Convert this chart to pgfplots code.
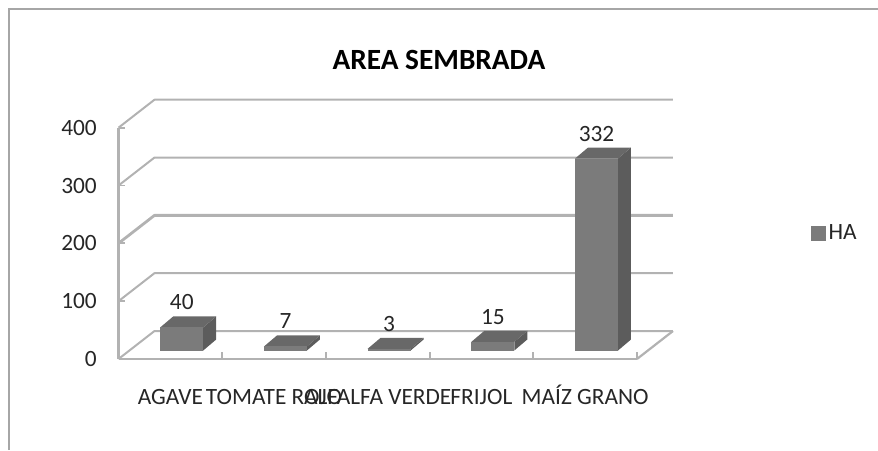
\documentclass[border=0pt]{standalone}
\usepackage{fontspec}
\setmainfont{Carlito}
\usepackage{pgfplots}
\usepackage{pgfplotstable}
\pgfplotsset{compat=1.18}

\definecolor{gridgray}{HTML}{B2B2B2}
\definecolor{framegray}{HTML}{A6A6A6}
\definecolor{txt}{HTML}{262626}
\definecolor{barfront}{HTML}{7B7B7B}
\definecolor{bartop}{HTML}{686868}
\definecolor{barside}{HTML}{5C5C5C}

% one reference pixel
\def\px{0.75pt}

\pgfplotstableread{
pos ha
0.5 40
1.5 7
2.5 3
3.5 15
4.5 332
}\hatable

% depth of the back wall, in axis units
\def\wallx{0.347}
\def\wally{48.4}

\newcommand{\wallline}[2][2*\px]{%
  \addplot[forget plot, gridgray, line width=#1, line join=round] coordinates {(0,#2) (\wallx,#2+\wally) (5+\wallx,#2+\wally)};
}

% fake 3d bar: centre of the category, value
\newcommand{\threedbar}[2]{%
  \pgfmathsetmacro\xl{#1+0.11-0.207}
  \pgfmathsetmacro\xr{#1+0.11+0.207}
  \pgfmathsetmacro\xlb{\xl+0.125}
  \pgfmathsetmacro\xrb{\xr+0.125}
  \pgfmathsetmacro\yb{14.7}
  \pgfmathsetmacro\yt{14.7+#2}
  \pgfmathsetmacro\ybb{\yb+19}
  \pgfmathsetmacro\ytb{\yt+19}
  \addplot[forget plot, fill=barside, draw=none] coordinates {(\xr,\yb) (\xrb,\ybb) (\xrb,\ytb) (\xr,\yt)};
  \addplot[forget plot, fill=bartop, draw=none] coordinates {(\xl,\yt) (\xr,\yt) (\xrb,\ytb) (\xlb,\ytb)};
  \addplot[forget plot, fill=barfront, draw=none] coordinates {(\xl,\yb) (\xr,\yb) (\xr,\yt) (\xl,\yt)};
}

\begin{document}
\begin{tikzpicture}
  \useasboundingbox (0,0) rectangle (878*\px,450*\px);
  \draw[framegray, line width=2*\px] (9*\px,0) -- (9*\px,440.5*\px) -- (878*\px,440.5*\px);
  \begin{axis}[
      at={(118.5*\px,91*\px)}, anchor=south west,
      scale only axis, width=518.5*\px, height=231.3*\px,
      xmin=0, xmax=5, ymin=0, ymax=400, clip=false,
      axis x line*=bottom, axis y line*=left,
      axis line style={-, gridgray, line width=2.4*\px},
      xtick={0.5,1.5,2.5,3.5,4.5},
      xticklabels={AGAVE,TOMATE ROJO,ALFALFA VERDE,FRIJOL,MAÍZ GRANO},
      major x tick style={draw=none},
      minor xtick={0,1,2,3,4,5},
      minor tick length=7*\px,
      minor tick style={gridgray, line width=1.8*\px},
      ytick={0,100,200,300,400},
      major tick length=6*\px,
      major y tick style={gridgray, line width=1.8*\px},
      /pgf/number format/assume math mode=true,
      tick label style={font=\fontsize{17.5}{20}\selectfont, text=txt},
      yticklabel style={xshift=-17*\px},
      xticklabel style={anchor=base, yshift=-45*\px},
      title={AREA SEMBRADA},
      title style={at={(axis description cs:0.618,1.258)}, anchor=center,
                   font=\fontsize{22}{26}\selectfont\bfseries, text=black},
      legend style={at={(axis description cs:1.336,0.545)}, anchor=west, draw=none, fill=none,
                    font=\fontsize{17.5}{20}\selectfont, text=txt, inner sep=0pt},
    ]
    \wallline{0}
    \wallline{100}
    \wallline[2.8*\px]{200}
    \wallline{300}
    \wallline{400}
    \addplot[forget plot, gridgray, line width=2.2*\px] coordinates {(5,0) (5+\wallx,\wally)};

    \threedbar{0.5}{40}
    \threedbar{1.5}{7}
    \threedbar{2.5}{3}
    \threedbar{3.5}{15}
    \threedbar{4.5}{332}

    \addplot[forget plot, draw=none, point meta=explicit,
             nodes near coords, nodes near coords align={center},
             every node near coord/.append style={font=\fontsize{17.5}{20}\selectfont, text=txt, yshift=25*\px}]
      table[x expr=\thisrow{pos}+0.11, y expr=\thisrow{ha}+14.7, meta=ha] {\hatable};

    \addlegendimage{legend image code/.code={\fill[barfront] (0pt,-5.25pt) rectangle (10.5pt,5.25pt);}}
    \addlegendentry{HA}
  \end{axis}
\end{tikzpicture}
\end{document}
